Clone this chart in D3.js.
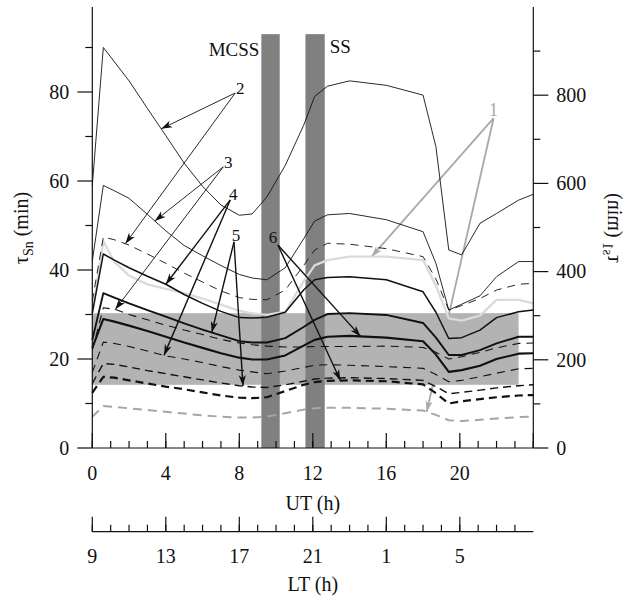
<!DOCTYPE html>
<html>
<head>
<meta charset="utf-8">
<script src="https://cdn.jsdelivr.net/npm/d3@7"></script>
<style>
  body { margin: 0; background: #fff; }
  text { font-family: "Liberation Serif", "Times New Roman", serif; fill: #111; }
</style>
</head>
<body>
<svg id="chart" width="633" height="602"></svg>
<script>
const hours = n => Array.from({ length: n }, (_, i) => i);

// Universal time of each sample (h)
const ut = [0, 0.6, 1.2, 2, 3, 4, 5, 6, 7, 8, 8.7, 9.5, 10.5, 11.5, 12.1, 12.8, 14, 16, 18, 18.7, 19.4, 20.1, 21.1, 22, 23.2, 24];

// τSn (min), left axis
const t1 = [59, 90, 86.8, 82.5, 76.3, 70.2, 64, 58.8, 54.6, 52.3, 52.6, 56.4, 63.5, 72.5, 79, 81.3, 82.5, 81.5, 79.3, 67.7, 44.5, 43.4, 50.5, 52.7, 55.7, 57];
const d1 = [33, 47.4, 46.8, 45.6, 43.6, 41.5, 39.3, 37.3, 35.3, 33.8, 33.4, 33.3, 35.5, 41, 44.5, 46, 45.8, 44.8, 43, 38, 31, 32, 33.6, 35.5, 36.8, 37];
const t2 = [42, 59, 57.8, 56.1, 52.5, 48.8, 45.5, 43.2, 41, 39, 38.2, 37.8, 40.5, 47, 51, 52.4, 52.7, 51.3, 48.6, 41.5, 31, 32.3, 34.2, 38.5, 41.9, 41.9];
const d2 = [22, 31.5, 31.2, 30, 28.8, 27.6, 26.5, 25.5, 24.4, 23.6, 23.2, 22.9, 22.7, 22.7, 22.8, 22.8, 22.8, 22.9, 22.6, 21.5, 20, 20.5, 21.5, 22.5, 23.5, 23.6];
const s1 = [30.3, 43.6, 42.2, 40.5, 38.6, 36.8, 34.5, 32.5, 30.7, 29.3, 29.2, 29.4, 30.5, 35.5, 37.8, 38.3, 38.5, 37.8, 35.1, 30.5, 24.6, 24.8, 26.5, 29.3, 30.6, 31];
const d3v = [17, 23.8, 23.5, 22.8, 21.8, 20.7, 20, 19.2, 18.3, 17.5, 17.1, 16.7, 17.3, 18.1, 18.6, 18.7, 18.6, 18.3, 17.9, 16.5, 14.9, 15.2, 16, 16.8, 17.8, 17.9];
const s2 = [24.3, 34.8, 33.8, 32.5, 31, 29.5, 28, 26.6, 25.3, 24, 23.7, 23.7, 24.7, 27.2, 28.8, 30.1, 30.3, 29.9, 28.1, 24.8, 20.9, 20.9, 22, 23.5, 25, 25];
const d4 = [14.5, 19, 18.8, 18.2, 17.4, 16.7, 16, 15.3, 14.6, 14, 13.7, 13.6, 14.2, 15, 15.5, 15.7, 15.8, 15.6, 15.2, 13.8, 12.2, 12.5, 13, 13.5, 14, 14.2];
const s3 = [22.5, 29, 28.4, 27.5, 26.3, 25, 23.7, 22.5, 21.3, 20.3, 19.9, 19.9, 20.8, 23, 24.3, 25, 25.2, 24.8, 24, 21, 17.1, 17.5, 18.5, 20, 21.2, 21.3];
const d5 = [12.4, 16, 15.8, 15.2, 14.5, 13.8, 13.2, 12.5, 11.8, 11.3, 11.2, 11.4, 12.8, 14.2, 14.8, 15.1, 15.2, 15, 14.3, 12.3, 10, 10.5, 11, 11.4, 11.8, 11.9];

// τs1 (min), right axis
const g1 = [303, 469, 422, 391, 371, 361, 351, 339, 325, 311, 305, 302, 309, 378, 414, 426, 434, 434, 426, 368, 294, 289, 300, 336, 336, 328];
const g2 = [71, 95, 93, 90, 86, 82, 78, 74, 71, 69, 69, 71, 79, 87, 90, 91, 91, 89, 85, 75, 63, 61, 64, 67, 70, 71];

// Shaded range (τSn) and event intervals (UT)
const band = { from: 0, to: 23.2, low: 14.2, high: 30.3 };
const events = [
  { name: "MCSS", start: 9.2, end: 10.2, top: 93 },
  { name: "SS", start: 11.6, end: 12.65, top: 93 }
];

// Axis ticks
const leftMajor = [0, 20, 40, 60, 80];
const leftMinor = [10, 30, 50, 70, 90];
const rightMajor = [0, 200, 400, 600, 800];
const rightMinor = [100, 300, 500, 700, 900];
const utMajor = [0, 4, 8, 12, 16, 20, 24];
const utLabels = [0, 4, 8, 12, 16, 20];
const utMinor = hours(25);
const ltMajor = [0, 4, 8, 12, 16, 20];
const ltMinor = hours(24);
const ltOffset = 9;

// Curve labels (position in UT / axis value) and the curves they point at
const labels = [
  { id: "1", ut: 21.84, v: 766, axis: "R", color: "#a8a8a8", size: 18, tail: [0, 8] },
  { id: "2", ut: 8.05, v: 80.9, axis: "L", color: "#111", size: 17, tail: [-5, 5] },
  { id: "3", ut: 7.4, v: 64.3, axis: "L", color: "#111", size: 17, tail: [-5, 5] },
  { id: "4", ut: 7.67, v: 57.1, axis: "L", color: "#111", size: 17, tail: [-3, 6] },
  { id: "5", ut: 7.82, v: 47.9, axis: "L", color: "#111", size: 17, tail: [-2, 7] },
  { id: "6", ut: 9.83, v: 47.4, axis: "L", color: "#111", size: 17, tail: [5, 8] }
];
const pointers = [
  { label: "1", curve: "g1", at: 15.2 },
  { label: "1", curve: "g2", at: 18.2 },
  { label: "2", curve: "t1", at: 3.75 },
  { label: "2", curve: "d1", at: 1.8 },
  { label: "3", curve: "t2", at: 3.4 },
  { label: "3", curve: "d2", at: 1.25 },
  { label: "4", curve: "s1", at: 4.0 },
  { label: "4", curve: "d3", at: 3.9 },
  { label: "5", curve: "s2", at: 6.5 },
  { label: "5", curve: "d4", at: 8.2 },
  { label: "6", curve: "s3", at: 14.6 },
  { label: "6", curve: "d5", at: 13.5 }
];

const series = [
  { key: "g2", values: g2, axis: "R", color: "#a6a6a6", width: 2.0, dash: "9,6" },
  { key: "g1", values: g1, axis: "R", color: "#dadada", width: 2.3, dash: null },
  { key: "t1", values: t1, axis: "L", color: "#111", width: 0.9, dash: null },
  { key: "t2", values: t2, axis: "L", color: "#111", width: 0.9, dash: null },
  { key: "d1", values: d1, axis: "L", color: "#111", width: 0.9, dash: "8,6" },
  { key: "d2", values: d2, axis: "L", color: "#111", width: 1.1, dash: "8,6" },
  { key: "d3", values: d3v, axis: "L", color: "#111", width: 1.1, dash: "8,6" },
  { key: "d4", values: d4, axis: "L", color: "#111", width: 1.4, dash: "8,5" },
  { key: "d5", values: d5, axis: "L", color: "#111", width: 2.2, dash: "8,5" },
  { key: "s1", values: s1, axis: "L", color: "#111", width: 1.5, dash: null },
  { key: "s2", values: s2, axis: "L", color: "#111", width: 1.9, dash: null },
  { key: "s3", values: s3, axis: "L", color: "#111", width: 2.1, dash: null }
];

const svg = d3.select("#chart");
const plot = { left: 92.3, right: 533.3, top: 7, bottom: 448 };

const x = d3.scaleLinear().domain([0, 24]).range([plot.left, plot.right]);
const yL = d3.scaleLinear().domain([0, 99.1]).range([plot.bottom, plot.top]);
const yR = d3.scaleLinear().domain([0, 1000]).range([plot.bottom, plot.top]);
const yOf = axis => axis === "R" ? yR : yL;

// arrowheads
const defs = svg.append("defs");
[["black", "#111"], ["grey", "#a8a8a8"]].forEach(([id, c]) => {
  defs.append("marker")
    .attr("id", "head-" + id)
    .attr("viewBox", "-12 -5 13 10")
    .attr("refX", 0).attr("refY", 0)
    .attr("markerUnits", "userSpaceOnUse")
    .attr("markerWidth", 13).attr("markerHeight", 10)
    .attr("orient", "auto")
    .append("path")
    .attr("d", "M0,0 L-11,-3.6 L-8,0 L-11,3.6 Z")
    .attr("fill", c);
});

const seriesByKey = Object.fromEntries(series.map(s => [s.key, s]));
const labelById = Object.fromEntries(labels.map(l => [l.id, l]));

function pointerGeom(p) {
  const lab = labelById[p.label];
  const s = seriesByKey[p.curve];
  const valueAt = d3.scaleLinear().domain(ut).range(s.values);
  return {
    x1: x(lab.ut) + lab.tail[0],
    y1: yOf(lab.axis)(lab.v) + lab.tail[1],
    x2: x(p.at),
    y2: yOf(s.axis)(valueAt(p.at))
  };
}
function drawPointers(g, data, color, widthOf, marker) {
  g.selectAll("line").data(data).join("line")
    .each(function (p) {
      const gm = pointerGeom(p);
      d3.select(this).attr("x1", gm.x1).attr("y1", gm.y1).attr("x2", gm.x2).attr("y2", gm.y2);
    })
    .attr("stroke", color).attr("stroke-width", widthOf)
    .attr("marker-end", marker);
}

// grey pointers sit beneath the shaded range
drawPointers(svg.append("g"), pointers.filter(p => p.label === "1"), "#a8a8a8", 1.8, "url(#head-grey)");

// shaded range
svg.append("rect")
  .attr("x", x(band.from)).attr("width", x(band.to) - x(band.from))
  .attr("y", yL(band.high)).attr("height", yL(band.low) - yL(band.high))
  .attr("fill", "#b3b3b3");

// event bars
svg.append("g").selectAll("rect").data(events).join("rect")
  .attr("x", d => x(d.start)).attr("width", d => x(d.end) - x(d.start))
  .attr("y", d => yL(d.top)).attr("height", d => yL(0) - yL(d.top))
  .attr("fill", "#808080");

svg.append("text").attr("x", x(events[0].start) - 2).attr("y", yL(88.1))
  .attr("text-anchor", "end").attr("font-size", 19).text(events[0].name);
svg.append("text").attr("x", x(events[1].end) + 5).attr("y", yL(88.7))
  .attr("text-anchor", "start").attr("font-size", 19).text(events[1].name);

// curves
const lineGen = axis => d3.line().x((d, i) => x(ut[i])).y(d => yOf(axis)(d));
svg.append("g").selectAll("path").data(series).join("path")
  .attr("d", s => lineGen(s.axis)(s.values))
  .attr("fill", "none")
  .attr("stroke", s => s.color)
  .attr("stroke-width", s => s.width)
  .attr("stroke-dasharray", s => s.dash)
  .attr("stroke-linejoin", "round");

// black pointers
drawPointers(svg.append("g"), pointers.filter(p => p.label !== "1"), "#111",
  p => ["2", "3"].includes(p.label) ? 0.9 : 1.4, "url(#head-black)");

// curve labels
svg.append("g").selectAll("text").data(labels).join("text")
  .attr("x", d => x(d.ut)).attr("y", d => yOf(d.axis)(d.v))
  .attr("dy", "0.35em").attr("text-anchor", "middle")
  .attr("font-size", d => d.size)
  .style("fill", d => d.color)
  .text(d => d.id);

// ---- axes ----
const axisColor = "#111";
const axisWidth = 1.2;
const axes = svg.append("g").attr("stroke", axisColor).attr("stroke-width", axisWidth);

// vertical axis: spine, ticks pointing outward (dir -1 left, +1 right), labels
function verticalAxis(x0, scale, major, minor, dir) {
  axes.append("line").attr("x1", x0).attr("x2", x0)
    .attr("y1", scale.range()[1]).attr("y2", scale.range()[0]);
  axes.append("g").selectAll("line").data(minor).join("line")
    .attr("x1", x0).attr("x2", x0 + dir * 7)
    .attr("y1", d => scale(d)).attr("y2", d => scale(d));
  axes.append("g").selectAll("line").data(major).join("line")
    .attr("x1", x0).attr("x2", x0 + dir * 15)
    .attr("y1", d => scale(d)).attr("y2", d => scale(d));
  svg.append("g").selectAll("text").data(major).join("text")
    .attr("x", x0 + dir * 23).attr("y", d => scale(d))
    .attr("dy", "0.34em")
    .attr("text-anchor", dir < 0 ? "end" : "start")
    .attr("font-size", 20)
    .text(d => d);
}
verticalAxis(plot.left, yL, leftMajor, leftMinor, -1);
verticalAxis(plot.right, yR, rightMajor, rightMinor, 1);

// horizontal time axis with ticks pointing up into the plot
function timeAxis(y0, major, minor, labelValues, fmt, baseline) {
  axes.append("line").attr("x1", x(0)).attr("x2", x(24)).attr("y1", y0).attr("y2", y0);
  axes.append("g").selectAll("line").data(minor).join("line")
    .attr("x1", d => x(d)).attr("x2", d => x(d))
    .attr("y1", y0).attr("y2", y0 - 7);
  axes.append("g").selectAll("line").data(major).join("line")
    .attr("x1", d => x(d)).attr("x2", d => x(d))
    .attr("y1", y0).attr("y2", y0 - 15);
  svg.append("g").selectAll("text").data(labelValues).join("text")
    .attr("x", d => x(d)).attr("y", baseline)
    .attr("text-anchor", "middle").attr("font-size", 20)
    .text(fmt);
}
timeAxis(plot.bottom, utMajor, utMinor, utLabels, d => d, 480);
timeAxis(531.7, ltMajor, ltMinor, ltMajor, d => (d + ltOffset) % 24, 563);

// axis titles
svg.append("text").attr("x", x(12)).attr("y", 510).attr("text-anchor", "middle")
  .attr("font-size", 20).text("UT (h)");
svg.append("text").attr("x", x(12)).attr("y", 591).attr("text-anchor", "middle")
  .attr("font-size", 20).text("LT (h)");

function tauTitle(sel, sub) {
  sel.append("tspan").text("τ");
  sel.append("tspan").attr("font-size", 14).attr("dy", 5).text(sub);
  sel.append("tspan").attr("dy", -5).text(" (min)");
}
const leftTitle = svg.append("text")
  .attr("transform", "translate(28,228) rotate(-90)")
  .attr("text-anchor", "middle").attr("font-size", 20);
tauTitle(leftTitle, "Sn");

const rightTitle = svg.append("text")
  .attr("transform", "translate(608,228) scale(-1,1) rotate(-90)")
  .attr("text-anchor", "middle").attr("font-size", 20);
tauTitle(rightTitle, "s1");
</script>
</body>
</html>
